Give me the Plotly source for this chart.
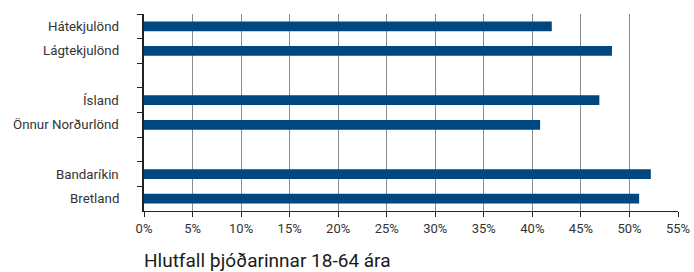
import plotly.graph_objects as go

categories = ["Hátekjulönd", "Lágtekjulönd", "Ísland", "Önnur Norðurlönd", "Bandaríkin", "Bretland"]
values = [42.0, 48.2, 46.9, 40.8, 52.2, 51.0]
x_ticks = list(range(0, 60, 5))
x_tick_labels = [f"{v}%" for v in x_ticks]
axis_title = "Hlutfall þjóðarinnar 18-64 ára"

# category order with blank separator slots between groups
cat_order = ["Hátekjulönd", "Lágtekjulönd", " ", "Ísland", "Önnur Norðurlönd", "  ", "Bandaríkin", "Bretland"]

FONT = "Roboto"
TXT = "#333333"

fig = go.Figure()
fig.add_trace(go.Bar(
    y=categories, x=values, orientation="h",
    marker=dict(color="#00467f", line=dict(width=0)),
    hoverinfo="x+y",
))

fig.update_layout(
    width=694, height=272,
    margin=dict(l=144, r=16, t=14, b=61),
    paper_bgcolor="white", plot_bgcolor="white",
    bargap=0.6,
    showlegend=False,
    font=dict(family=FONT, size=12, color=TXT),
)
fig.update_xaxes(
    range=[0, 55], tickvals=x_ticks, ticktext=x_tick_labels,
    showgrid=True, gridcolor="#8c8c8c", gridwidth=1,
    showline=True, linecolor="#222222", linewidth=1,
    ticks="outside", ticklen=5, tickcolor="#222222",
    zeroline=False, automargin=False,
    tickfont=dict(family=FONT, size=13, color=TXT),
    fixedrange=True,
)
fig.update_yaxes(
    type="category", categoryorder="array", categoryarray=cat_order,
    range=[7.5, -0.5],
    tickson="boundaries",
    showline=True, linecolor="#222222", linewidth=1.5,
    ticks="outside", ticklen=5, tickcolor="#222222",
    showgrid=False, automargin=False,
    showticklabels=False,
    fixedrange=True,
)
for cat in categories:
    fig.add_annotation(
        text=cat, xref="paper", yref="y", x=0, y=cat, xshift=-23,
        xanchor="right", yanchor="middle", showarrow=False,
        font=dict(family=FONT, size=13.3, color=TXT),
    )
fig.add_annotation(
    text=axis_title, xref="paper", yref="paper", x=0, y=-0.252,
    xanchor="left", yanchor="middle", showarrow=False, xshift=-2,
    font=dict(family=FONT, size=19, color="#1a1a1a"),
)

fig.write_html(
    "out.html",
    config={"displayModeBar": False},
    post_script="document.body.style.margin='0';document.body.style.padding='0';",
)
